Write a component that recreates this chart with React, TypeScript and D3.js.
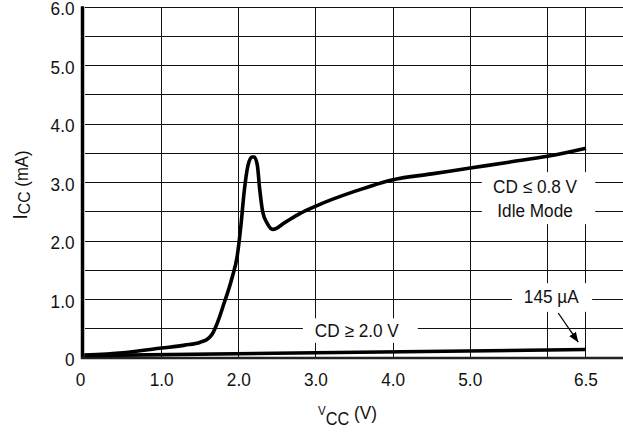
import React, { useEffect, useRef } from 'react';
import * as d3 from 'd3';

// Idle mode supply current (CD <= 0.8 V), mA vs V
const idleVcc = [0, 0.5, 1.0, 1.3, 1.5, 1.61, 1.66, 1.71, 1.81, 1.91, 1.98, 2.03, 2.07, 2.12, 2.17, 2.2, 2.24, 2.27, 2.31, 2.37, 2.44, 2.6, 2.79, 3.0, 3.5, 4.0, 4.5, 5.0, 5.5, 6.0, 6.5];
const idleIcc = [0.05, 0.09, 0.17, 0.22, 0.27, 0.34, 0.42, 0.56, 0.94, 1.36, 1.75, 2.3, 2.85, 3.3, 3.44, 3.44, 3.3, 2.9, 2.5, 2.3, 2.2, 2.32, 2.47, 2.6, 2.85, 3.05, 3.15, 3.25, 3.35, 3.45, 3.59];

// Standby current (CD >= 2.0 V)
const standbyVcc = [0, 3.0, 6.5];
const standbyIcc = [0.04, 0.09, 0.145];

const xTicks = [0, 1, 2, 3, 4, 5, 6.5];
const xTickLabels = ['0', '1.0', '2.0', '3.0', '4.0', '5.0', '6.5'];
const xGrid = [1, 2, 3, 4, 5, 6, 6.5];
const yTicks = [0, 1, 2, 3, 4, 5, 6];
const yTickLabels = ['0', '1.0', '2.0', '3.0', '4.0', '5.0', '6.0'];
const yGrid = [0.5, 1, 1.5, 2, 2.5, 3, 3.5, 4, 4.5, 5, 5.5, 6];

const width = 623;
const height = 433;
const font = 'Liberation Sans, Arial, Helvetica, sans-serif';
const squeeze = 0.93; // the original lettering is a touch narrower than Arial

export default function App() {
  const svgRef = useRef<SVGSVGElement>(null);

  useEffect(() => {
    if (!svgRef.current) return;
    const svg = d3.select(svgRef.current);
    svg.selectAll('*').remove();

    const x = d3.scaleLinear().domain([0, 7]).range([84.5, 84.5 + 7 * 77.15]);
    const y = d3.scaleLinear().domain([0, 6]).range([358, 7.3]);

    svg.append('rect').attr('width', width).attr('height', height).attr('fill', '#fff');

    // grid
    const grid = svg.append('g').attr('stroke', '#111').attr('stroke-width', 1).attr('shape-rendering', 'crispEdges');
    grid.selectAll('line.h')
      .data(yGrid)
      .join('line')
      .attr('x1', x(0)).attr('x2', width)
      .attr('y1', d => y(d)).attr('y2', d => y(d));
    grid.selectAll('line.v')
      .data(xGrid)
      .join('line')
      .attr('class', 'v')
      .attr('x1', d => x(d)).attr('x2', d => x(d))
      .attr('y1', y(6)).attr('y2', y(0));

    // white boxes behind the annotations
    const boxes = [
      [5.15, 6.62, 3.18, 2.29],
      [5.54, 6.58, 1.28, 0.79],
      [2.83, 4.32, 0.68, 0.26],
    ];
    svg.selectAll('rect.box')
      .data(boxes)
      .join('rect')
      .attr('class', 'box')
      .attr('x', d => x(d[0]))
      .attr('width', d => x(d[1]) - x(d[0]))
      .attr('y', d => y(d[2]))
      .attr('height', d => y(d[3]) - y(d[2]))
      .attr('fill', '#fff');

    // axes
    svg.append('line')
      .attr('x1', x(0) - 2).attr('x2', x(0) - 2)
      .attr('y1', y(6) - 1).attr('y2', y(0) + 1)
      .attr('stroke', '#000').attr('stroke-width', 3.5);
    svg.append('line')
      .attr('x1', x(0) - 3.5).attr('x2', width)
      .attr('y1', y(0)).attr('y2', y(0))
      .attr('stroke', '#222').attr('stroke-width', 2.5);

    // curves
    const line = d3.line<[number, number]>()
      .x(d => x(d[0]))
      .y(d => y(d[1]))
      .curve(d3.curveMonotoneX);

    svg.append('path')
      .datum(idleVcc.map((v, i) => [v, idleIcc[i]] as [number, number]))
      .attr('d', line)
      .attr('fill', 'none')
      .attr('stroke', '#000')
      .attr('stroke-width', 3.6)
      .attr('stroke-linejoin', 'round');

    svg.append('path')
      .datum(standbyVcc.map((v, i) => [v, standbyIcc[i]] as [number, number]))
      .attr('d', d3.line<[number, number]>().x(d => x(d[0])).y(d => y(d[1])))
      .attr('fill', 'none')
      .attr('stroke', '#000')
      .attr('stroke-width', 3.6);

    const label = (
      g: d3.Selection<SVGGElement, unknown, null, undefined>,
      px: number,
      py: number,
      txt: string,
      anchor: string,
    ) => {
      g.append('text')
        .attr('transform', `translate(${px},${py}) scale(${squeeze},1)`)
        .attr('text-anchor', anchor)
        .attr('font-family', font)
        .attr('font-size', 18.5)
        .attr('fill', '#111')
        .text(txt);
    };

    // tick labels
    const ticks = svg.append('g');
    yTicks.forEach((d, i) => label(ticks, 74.5, y(d) + 8, yTickLabels[i], 'end'));
    xTicks.forEach((d, i) => label(ticks, i === 0 ? x(d) - 4 : x(d), 385.5, xTickLabels[i], 'middle'));

    // annotations
    const notes: [number, number, string][] = [
      [5.84, 2.82, 'CD \u2264 0.8 V'],
      [5.84, 2.41, 'Idle Mode'],
      [6.05, 0.94, '145 \u00b5A'],
      [3.53, 0.36, 'CD \u2265 2.0 V'],
    ];
    const ann = svg.append('g');
    notes.forEach(d => label(ann, x(d[0]), y(d[1]), d[2], 'middle'));

    // arrow to the 145 uA point
    svg.append('defs').append('marker')
      .attr('id', 'arrow')
      .attr('viewBox', '0 0 10 10')
      .attr('refX', 10).attr('refY', 5)
      .attr('markerWidth', 10).attr('markerHeight', 10)
      .attr('markerUnits', 'userSpaceOnUse')
      .attr('orient', 'auto')
      .append('path')
      .attr('d', 'M0,1 L10,5 L0,9 Z')
      .attr('fill', '#000');
    svg.append('line')
      .attr('x1', x(6.14)).attr('y1', y(0.77))
      .attr('x2', x(6.4)).attr('y2', y(0.27))
      .attr('stroke', '#000').attr('stroke-width', 1.3)
      .attr('marker-end', 'url(#arrow)');

    // axis titles
    const xt = svg.append('text')
      .attr('transform', `translate(318,415) scale(${squeeze},1)`)
      .attr('font-family', font)
      .attr('fill', '#111');
    xt.append('tspan').attr('font-size', 12.5).text('V');
    xt.append('tspan').attr('font-size', 17.5).attr('dy', 10).text('CC');
    xt.append('tspan').attr('font-size', 18.5).attr('dy', -6).text(' (V)');

    const yt = svg.append('text')
      .attr('transform', `translate(27,185) rotate(-90) scale(${squeeze},1)`)
      .attr('text-anchor', 'middle')
      .attr('font-family', font)
      .attr('fill', '#111');
    yt.append('tspan').attr('font-size', 21).text('I');
    yt.append('tspan').attr('font-size', 17).attr('dy', 3).text('CC');
    yt.append('tspan').attr('font-size', 18).attr('dy', -2).text(' (mA)');
  }, []);

  return (
    <div style={{ position: 'absolute', left: 0, top: 0 }}>
      <svg ref={svgRef} width={width} height={height} style={{ display: 'block' }} />
    </div>
  );
}
